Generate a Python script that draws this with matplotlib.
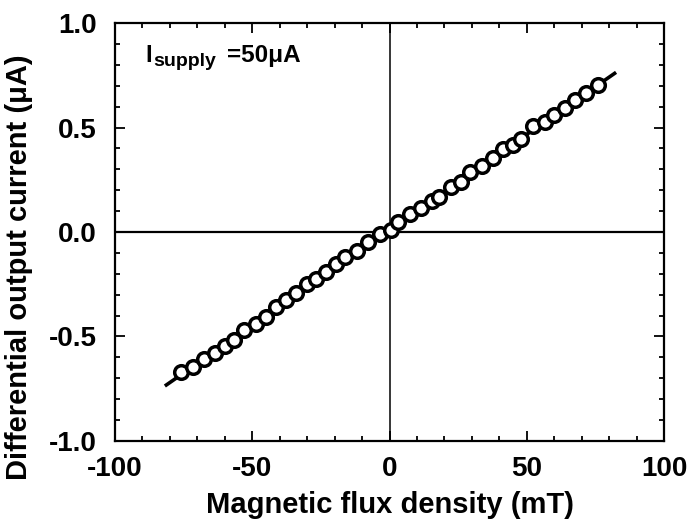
import numpy as np
import matplotlib
matplotlib.use("Agg")
from matplotlib import pyplot as plt
from matplotlib.ticker import MultipleLocator, FormatStrFormatter

plt.rcParams["font.family"] = ["Liberation Sans", "DejaVu Sans"]
plt.rcParams["font.weight"] = "bold"
plt.rcParams["axes.unicode_minus"] = False

# measured points (mT, uA)
flux_mt = [
    -76.0, -71.5, -67.5, -63.5, -60.0, -56.5, -53.0, -48.5, -45.0, -41.5,
    -37.8, -34.0, -30.0, -26.8, -23.0, -19.4, -16.3, -12.0, -8.0, -3.6,
    0.4, 3.2, 7.3, 11.5, 15.5, 18.2, 22.5, 26.1, 29.5, 33.8,
    37.6, 41.3, 44.9, 48.0, 52.4, 56.8, 60.1, 63.8, 67.6, 71.7, 75.9,
]
current_ua = [
    -0.670, -0.645, -0.610, -0.580, -0.545, -0.515, -0.470, -0.440, -0.405, -0.360,
    -0.325, -0.290, -0.250, -0.225, -0.190, -0.155, -0.120, -0.090, -0.050, -0.010,
    0.010, 0.050, 0.085, 0.113, 0.150, 0.169, 0.215, 0.240, 0.285, 0.316,
    0.352, 0.395, 0.416, 0.444, 0.508, 0.524, 0.560, 0.592, 0.632, 0.664, 0.703,
]

# fitted line end points
fit_x = [-81.3, 82.0]
fit_y = [-0.732, 0.759]

fig = plt.figure(figsize=(6.9, 5.28), dpi=100)
ax = fig.add_axes([0.1667, 0.1648, 0.7956, 0.7916])

ax.axhline(0, color="black", lw=1.6, zorder=1)
ax.axvline(0, color="black", lw=1.1, zorder=1)
ax.plot(fit_x, fit_y, color="black", lw=2.6, zorder=2)
ax.plot(flux_mt, current_ua, "o", ms=9.8, mfc="white", mec="black", mew=2.5, zorder=3)

ax.set_xlim(-100, 100)
ax.set_ylim(-1.0, 1.0)
ax.xaxis.set_major_locator(MultipleLocator(50))
ax.xaxis.set_minor_locator(MultipleLocator(10))
ax.yaxis.set_major_locator(MultipleLocator(0.5))
ax.yaxis.set_minor_locator(MultipleLocator(0.1))
ax.yaxis.set_major_formatter(FormatStrFormatter("%.1f"))
ax.tick_params(which="both", direction="in", top=True, right=True, width=1.3)
ax.tick_params(which="major", length=7, labelsize=20)
ax.tick_params(axis="x", which="major", pad=11)
ax.tick_params(axis="y", which="major", pad=13)
ax.tick_params(which="minor", length=3.5)
for s in ax.spines.values():
    s.set_linewidth(1.6)

ax.set_xlabel("Magnetic flux density (mT)", fontsize=21, fontweight="bold", labelpad=6)
ax.set_ylabel("Differential output current (\u03bcA)", fontsize=21, fontweight="bold")
ax.yaxis.set_label_coords(-0.150, 0.415)

# I_supply label, built from three pieces
ax.text(0.0546, 0.9067, "I", transform=ax.transAxes, fontsize=17,
        fontweight="bold", ha="left", va="baseline")
ax.text(0.0692, 0.898, "supply", transform=ax.transAxes, fontsize=14,
        fontweight="bold", ha="left", va="baseline")
ax.text(0.204, 0.9067, "=50\u03bcA", transform=ax.transAxes, fontsize=17.5,
        fontweight="bold", ha="left", va="baseline")

fig.savefig("out.png", dpi=100, facecolor="white")
